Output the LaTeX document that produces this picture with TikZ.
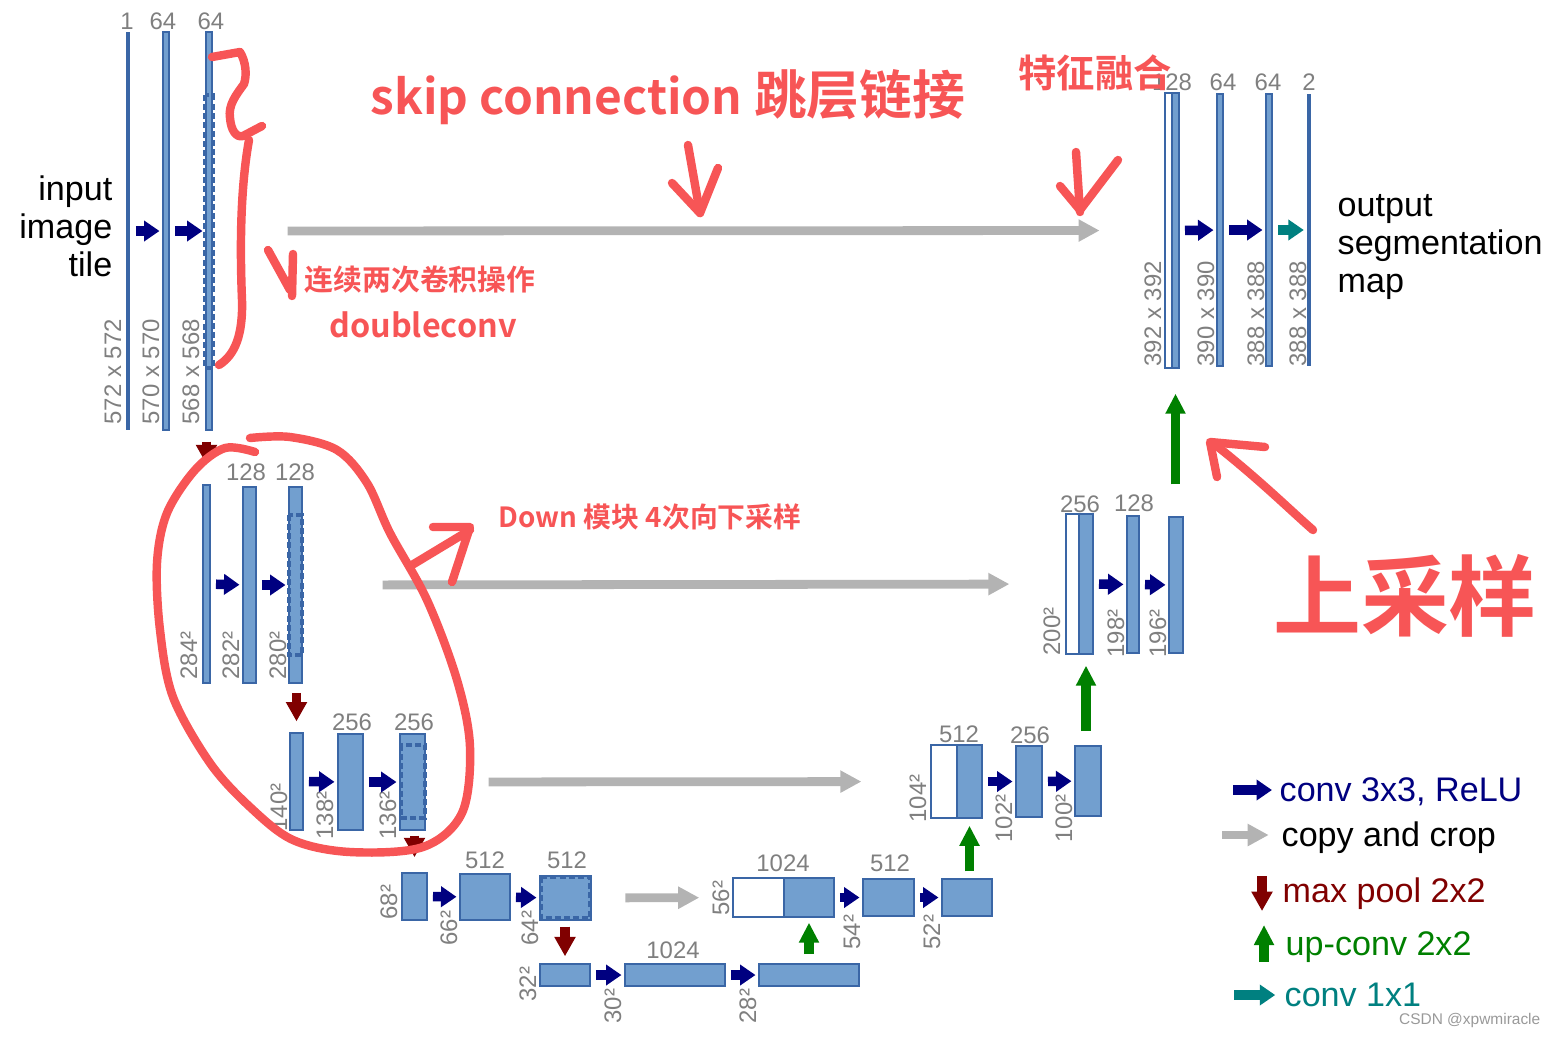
\documentclass[tikz,border=0pt]{standalone}
\usepackage{fontspec}
\setmainfont{Liberation Sans}
\newfontfamily\cjk{Noto Sans CJK SC}[BoldFont={Noto Sans CJK SC Bold}]
\usetikzlibrary{arrows.meta,fit}
\definecolor{barfill}{HTML}{729FCF}
\definecolor{barline}{HTML}{3A66A6}
\definecolor{numgray}{HTML}{7F7F7F}
\definecolor{convblue}{HTML}{000080}
\definecolor{copygray}{HTML}{B3B3B3}
\definecolor{pooldark}{HTML}{800000}
\definecolor{upgreen}{HTML}{008000}
\definecolor{outteal}{HTML}{008080}
\definecolor{pen}{HTML}{F75556}

\begin{document}
\begin{tikzpicture}[x=0.01cm, y=-0.01cm,
  fmap/.style={draw=barline, fill=barfill, line width=0.4pt, inner sep=0pt},
  copied/.style={draw=barline, fill=white, line width=0.4pt, inner sep=0pt},
  thinmap/.style={draw=none, fill=barline, inner sep=0pt},
  crop/.style={draw=barline, line width=0.9pt, dash pattern=on 1.7pt off 0.9pt},
  chan/.style={font=\fontsize{6.8}{7}\selectfont, text=numgray, inner sep=0pt, anchor=base},
  size/.style={font=\fontsize{6.8}{7}\selectfont, text=numgray, inner sep=0pt, rotate=90, anchor=base west},
  convarr/.style={-{Triangle[width=5.7pt,length=4.4pt]}, line width=2.7pt, convblue, shorten <=1.5pt, shorten >=0.8pt},
  outarr/.style={convarr, outteal},
  copyarr/.style={-{Triangle[width=6pt,length=6pt]}, line width=2.5pt, copygray},
  poolarr/.style={-{Triangle[width=5.7pt,length=5.5pt]}, line width=2.8pt, pooldark},
  uparr/.style={-{Triangle[width=5.4pt,length=5.7pt]}, line width=2.7pt, upgreen},
  side/.style={font=\fontsize{9.7}{10.8}\selectfont, inner sep=0pt},
  legend/.style={font=\fontsize{9.7}{10.8}\selectfont, inner sep=0pt, anchor=base west},
  note/.style={font=\cjk\bfseries, text=pen, inner sep=0pt},
  pen/.style={draw=pen, line width=2.4pt, line cap=round, line join=round}
]
\useasboundingbox (0,0) rectangle (1555,1036);

% contracting path, level 1
\node[thinmap, fit={(127.3,32)(128.8,430)}] (e1a) {};
\node[fmap, fit={(163,32)(169,430)}] (e1b) {};
\node[fmap, fit={(206,32)(212,430)}] (e1c) {};
\draw[crop] (205,95) rectangle (213,368);
\node[chan] (c1a) at (127,29) {1};
\node[chan] (c1b) at (163,29) {64};
\node[chan] (c1c) at (211,29) {64};
\node[size] (s1a) at (121,425) {572 x 572};
\node[size] (s1b) at (159,425) {570 x 570};
\node[size] (s1c) at (199,425) {568 x 568};
\node[side, align=right, anchor=east] (intile) at (113,226) {input\\image\\tile};
\draw[convarr] (e1a) -- (e1b);
\draw[convarr] (e1b) -- (e1c);

% level 2
\node[fmap, fit={(203,485)(210,683)}] (e2a) {};
\node[fmap, fit={(243,487)(256,683)}] (e2b) {};
\node[fmap, fit={(289,487)(302,683)}] (e2c) {};
\draw[crop] (289,515) rectangle (302,655);
\node[chan] (c2b) at (246,480) {128};
\node[chan] (c2c) at (295,480) {128};
\node[size] (s2a) at (197,680) {284²};
\node[size] (s2b) at (239,680) {282²};
\node[size] (s2c) at (286,680) {280²};
\draw[convarr] (e2a) -- (e2b);
\draw[convarr] (e2b) -- (e2c);

% level 3
\node[fmap, fit={(290,733)(303,830)}] (e3a) {};
\node[fmap, fit={(338,734)(363,830)}] (e3b) {};
\node[fmap, fit={(400,734)(425,830)}] (e3c) {};
\draw[crop] (401,745) rectangle (425,818);
\node[chan] (c3b) at (352,730) {256};
\node[chan] (c3c) at (414,730) {256};
\node[size] (s3a) at (287,832) {140²};
\node[size] (s3b) at (333,840) {138²};
\node[size] (s3c) at (396,840) {136²};
\draw[convarr] (e3a) -- (e3b);
\draw[convarr] (e3b) -- (e3c);

% level 4
\node[fmap, fit={(402,873)(427,920)}] (e4a) {};
\node[fmap, fit={(460,874)(510,920)}] (e4b) {};
\node[fmap, fit={(540,876)(591,920)}] (e4c) {};
\draw[crop] (541,877) rectangle (590,918);
\node[chan] (c4b) at (485,868) {512};
\node[chan] (c4c) at (567,868) {512};
\node[size] (s4a) at (397,920) {68²};
\node[size] (s4b) at (457,946) {66²};
\node[size] (s4c) at (538,946) {64²};
\draw[convarr] (e4a) -- (e4b);
\draw[convarr] (e4b) -- (e4c);

% bottom
\node[fmap, fit={(540,964)(590,986)}] (b5a) {};
\node[fmap, fit={(625,964)(725,986)}] (b5b) {};
\node[fmap, fit={(759,964)(859,986)}] (b5c) {};
\node[chan] (c5b) at (673,958) {1024};
\node[size] (s5a) at (536,1002) {32²};
\node[size] (s5b) at (621,1024) {30²};
\node[size] (s5c) at (756,1024) {28²};
\draw[convarr] (b5a) -- (b5b);
\draw[convarr] (b5b) -- (b5c);

% expanding path, level 4
\node[copied, fit={(733,878)(784,917)}] (u4a) {};
\node[fmap, fit={(784,878)(834,917)}] (u4b) {};
\node[fmap, fit={(863,879)(914,916)}] (u4c) {};
\node[fmap, fit={(942,879)(992,916)}] (u4d) {};
\node[chan] (d4b) at (783,871) {1024};
\node[chan] (d4c) at (890,871) {512};
\node[size] (t4a) at (729,916) {56²};
\node[size] (t4c) at (860,950) {54²};
\node[size] (t4d) at (940,950) {52²};
\draw[convarr] (u4b) -- (u4c);
\draw[convarr] (u4c) -- (u4d);

% level 3
\node[copied, fit={(931,745)(957,818)}] (u3a) {};
\node[fmap, fit={(957,745)(982,818)}] (u3b) {};
\node[fmap, fit={(1016,746)(1042,817)}] (u3c) {};
\node[fmap, fit={(1075,746)(1101,816)}] (u3d) {};
\node[chan] (d3b) at (959,742) {512};
\node[chan] (d3c) at (1030,743) {256};
\node[size] (t3a) at (926,823) {104²};
\node[size] (t3c) at (1012,843) {102²};
\node[size] (t3d) at (1072,843) {100²};
\draw[convarr] (u3b) -- (u3c);
\draw[convarr] (u3c) -- (u3d);

% level 2
\node[copied, fit={(1066,514)(1079,654)}] (u2a) {};
\node[fmap, fit={(1079,514)(1093,654)}] (u2b) {};
\node[fmap, fit={(1127,516)(1139,653)}] (u2c) {};
\node[fmap, fit={(1169,517)(1183,653)}] (u2d) {};
\node[chan] (d2b) at (1080,512) {256};
\node[chan] (d2c) at (1134,511) {128};
\node[size] (t2a) at (1060,656) {200²};
\node[size] (t2c) at (1124,658) {198²};
\node[size] (t2d) at (1166,658) {196²};
\draw[convarr] (u2b) -- (u2c);
\draw[convarr] (u2c) -- (u2d);

% level 1
\node[copied, fit={(1165,93)(1172,368)}] (u1a) {};
\node[fmap, fit={(1172,93)(1179,368)}] (u1b) {};
\node[fmap, fit={(1217,94)(1223,366)}] (u1c) {};
\node[fmap, fit={(1266,94)(1272,366)}] (u1d) {};
\node[thinmap, fit={(1308.3,94)(1309.8,366)}] (u1e) {};
\node[chan] (d1b) at (1172,90) {128};
\node[chan] (d1c) at (1223,90) {64};
\node[chan] (d1d) at (1268,90) {64};
\node[chan] (d1e) at (1309,90) {2};
\node[size] (t1a) at (1161,367) {392 x 392};
\node[size] (t1c) at (1214,367) {390 x 390};
\node[size] (t1d) at (1264,367) {388 x 388};
\node[size] (t1e) at (1306,367) {388 x 388};
\node[side, align=left, anchor=west] (outmap) at (1337,247) {output\\segmentation\\map};
\draw[convarr] (u1b) -- (u1c);
\draw[convarr] (u1c) -- (u1d);
\draw[outarr] (u1d) -- (u1e);

% max pool
\draw[poolarr, shorten <=3.1pt, shorten >=5.7pt] (e1c.south -| e2a.north) -- (e2a.north);
\draw[poolarr, shorten <=2.6pt, shorten >=3.1pt] (e2c.south -| e3a.north) -- (e3a.north);
\draw[poolarr, shorten <=1.4pt, shorten >=4.3pt] (e3c.south -| e4a.north) -- (e4a.north);
\draw[poolarr, shorten <=1.7pt, shorten >=2pt] (e4c.south -| b5a.north) -- (b5a.north);

% up-conv
\draw[uparr, shorten <=2.6pt, shorten >=1.4pt] (b5c.north -| u4b.south) -- (u4b.south);
\draw[uparr, shorten <=2pt, shorten >=2pt] (u4d.north -| u3b.south) -- (u3b.south);
\draw[uparr, shorten <=4pt, shorten >=3.1pt] (u3d.north -| u2b.south) -- (u2b.south);
\draw[uparr, shorten <=9.1pt, shorten >=7.1pt] (u2d.north -| u1b.south) -- (u1b.south);

% copy and crop
\draw[copyarr, shorten <=21.3pt, shorten >=18.4pt] (e1c) -- (u1a);
\draw[copyarr, shorten <=22.7pt, shorten >=15.9pt] (e2c) -- (u2a);
\draw[copyarr, shorten <=17.9pt, shorten >=19.6pt] (e3c) -- (u3a);
\draw[copyarr, shorten <=9.6pt, shorten >=9.4pt] (e4c) -- (u4a);

% legend
\node[legend, text=convblue] (lgconv) at (1279,801) {conv 3x3, ReLU};
\node[legend] (lgcopy) at (1281,846) {copy and crop};
\node[legend, text=pooldark] (lgpool) at (1282,902) {max pool 2x2};
\node[legend, text=upgreen] (lgup) at (1285,955) {up-conv 2x2};
\node[legend, text=outteal] (lgout) at (1284,1006) {conv 1x1};
\coordinate (lgconvtail) at (1233,790);
\coordinate (lgcopytail) at (1222,835);
\coordinate (lgpooltop) at (1262,876);
\coordinate (lgpoolend) at (1262,911);
\coordinate (lgupbot) at (1264,962);
\coordinate (lgupend) at (1264,925);
\coordinate (lgouttail) at (1234,995);
\draw[convarr, shorten <=0pt, shorten >=2pt] (lgconvtail) -- (lgconvtail -| lgconv.west);
\draw[copyarr, shorten >=3.5pt] (lgcopytail) -- (lgcopytail -| lgcopy.west);
\draw[poolarr] (lgpooltop) -- (lgpoolend);
\draw[uparr] (lgupbot) -- (lgupend);
\draw[outarr, shorten <=0pt, shorten >=2.5pt] (lgouttail) -- (lgouttail -| lgout.west);
\node[font=\fontsize{4.4}{5}\selectfont, text=black!40, inner sep=0pt, anchor=base east] (mark) at (1541,1024) {CSDN @xpwmiracle};

% hand notes
\node[note, font=\cjk\bfseries\fontsize{15}{16}\selectfont] (skipnote) at (668,97) {{\fontsize{13.6}{16}\selectfont skip connection} 跳层链接};
\node[note, font=\cjk\bfseries\fontsize{10.9}{12}\selectfont] (fusenote) at (1095,73) {特征融合};
\node[note, font=\cjk\bfseries\fontsize{8.2}{9}\selectfont] (dcnote) at (420,280) {连续两次卷积操作};
\node[note, font=\cjk\bfseries\fontsize{9.2}{10}\selectfont] (dcname) at (423,325) {doubleconv};
\node[note, font=\cjk\bfseries\fontsize{7.9}{8}\selectfont] (downnote) at (650,517) {Down 模块 4次向下采样};
\node[note, font=\cjk\bfseries\fontsize{25}{27}\selectfont] (upnote) at (1405,596) {上采样};

\draw[pen] (688,145) -- (700,213);
\draw[pen] (672,183) -- (700,213) -- (718,168);
\draw[pen] (1076,152) -- (1080,212);
\draw[pen] (1060,186) -- (1080,210) -- (1118,160);
\draw[pen] (212,57) -- (240,52) .. controls (246,62) and (247,75) .. (244,84)
  .. controls (236,95) and (228,105) .. (230,118) .. controls (231,130) and (236,138) .. (243,136)
  -- (262,126);
\draw[pen] (249,140) .. controls (240,190) and (240,250) .. (242,300)
  .. controls (243,335) and (235,355) .. (219,365);
\draw[pen] (268,250) -- (290,290);
\draw[pen] (293,254) -- (292,296);
\draw[pen] plot[smooth, tension=0.55] coordinates {(250,438) (290,437) (337,450) (367,483)
  (390,533) (427,600) (457,680) (470,747) (462,813) (423,847) (350,852) (293,840)
  (250,807) (210,763) (173,697) (160,630) (157,563) (167,513) (195,470) (225,448) (255,452)};
\draw[pen] (412,565) -- (470,530);
\draw[pen] (433,527) -- (470,527) -- (452,582);
\draw[pen] (1313,530) .. controls (1290,510) and (1260,480) .. (1213,443);
\draw[pen] (1265,447) -- (1210,442) -- (1217,477);
\end{tikzpicture}
\end{document}
